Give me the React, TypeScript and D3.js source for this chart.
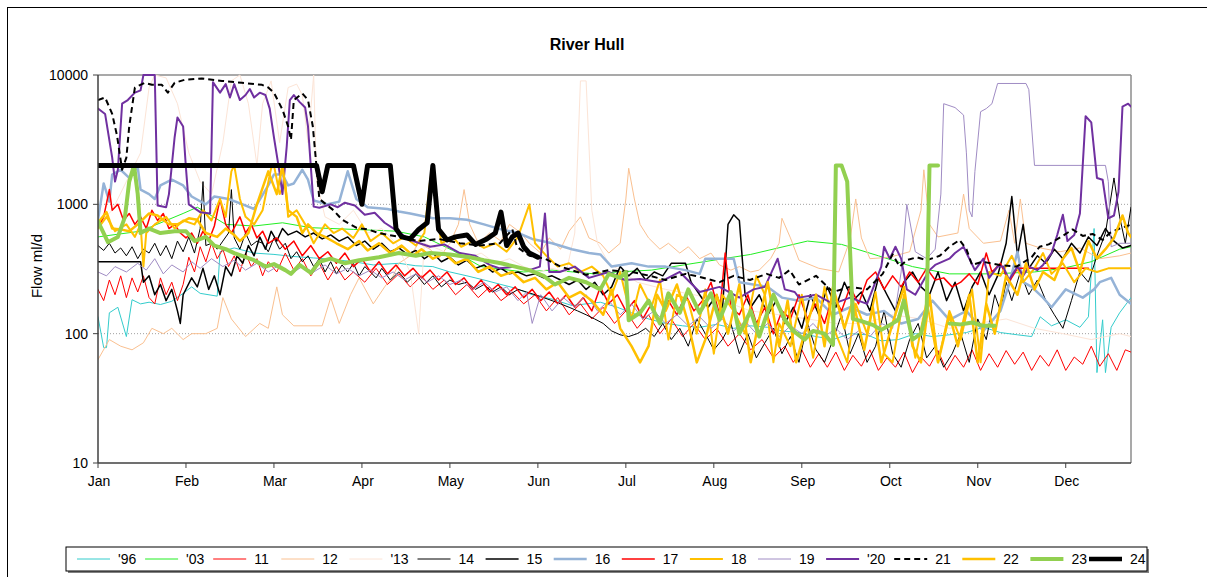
import React from "react";
import * as d3 from "d3";

type P = [number, number | null];

const months = ["Jan","Feb","Mar","Apr","May","Jun","Jul","Aug","Sep","Oct","Nov","Dec"];
const monthDays = [0,31,62,93,124,155,186,217,248,279,310,341];
const yTicks = [10, 100, 1000, 10000];

const s96: P[] = [[0,135],[2,78],[3,78],[4,145],[7,160],[10,95],[12,183],[15,170],[18,175],[22,168],[26,178],[30,205],[33,230],[36,205],[42,195],[43,430],[48,460],[55,420],[62,410],[69,395],[76,385],[83,375],[90,360],[97,340],[106,350],[112,335],[118,330],[124,300],[130,280],[136,260],[142,240],[147,225],[153,200],[160,185],[167,165],[172,170],[177,175],[183,160],[188,145],[194,130],[200,120],[206,115],[212,112],[218,118],[224,110],[230,115],[236,112],[241,105],[247,102],[253,95],[259,90],[265,100],[271,98],[276,88],[282,90],[288,100],[294,95],[300,98],[306,102],[312,112],[318,102],[324,98],[329,95],[332,135],[336,115],[341,128],[346,112],[349,135],[351,650],[352,50],[354,128],[355,50],[357,112],[360,145],[364,190]];

const s03: P[] = [[0,560],[15,620],[30,850],[35,950],[45,700],[55,680],[65,720],[75,660],[90,640],[105,620],[115,560],[125,440],[135,330],[150,300],[160,310],[175,290],[183,300],[195,310],[210,350],[230,410],[250,520],[262,490],[275,400],[287,330],[300,290],[315,290],[330,300],[340,320],[350,360],[360,450],[364,470]];

const s11: P[] = [[0,220],[2,180],[4,260],[6,200],[8,280],[10,190],[12,270],[14,210],[16,280],[18,190],[20,170],[22,270],[24,200],[26,250],[28,180],[30,240],[32,390],[34,300],[36,470],[38,360],[40,500],[42,380],[44,450],[46,330],[48,400],[50,300],[52,420],[54,330],[56,380],[58,280],[60,360],[63,300],[66,420],[69,310],[72,380],[75,280],[78,350],[81,260],[84,330],[87,260],[90,300],[94,250],[98,320],[102,240],[106,290],[110,230],[114,280],[118,220],[122,260],[126,200],[130,240],[134,190],[138,230],[142,180],[146,210],[150,170],[154,200],[158,150],[162,190],[166,140],[170,170],[174,130],[178,160],[182,120],[186,150],[190,110],[194,140],[198,100],[202,130],[206,95],[210,120],[214,90],[218,110],[222,80],[226,100],[230,75],[234,90],[238,65],[242,80],[245,60],[248,75],[251,55],[254,70],[257,55],[260,72],[263,52],[266,68],[269,56],[272,75],[275,52],[278,65],[281,55],[284,72],[287,50],[290,66],[293,56],[296,74],[299,52],[302,68],[305,55],[308,75],[311,52],[314,70],[317,55],[320,74],[323,58],[326,72],[329,52],[332,68],[335,56],[338,75],[341,52],[344,66],[347,58],[350,80],[353,56],[356,70],[359,52],[362,75],[364,72]];

const s12: P[] = [[0,63],[4,90],[8,80],[12,75],[16,85],[19,110],[23,100],[26,110],[30,90],[33,100],[38,100],[42,110],[44,190],[47,130],[52,95],[57,120],[60,110],[63,230],[65,140],[69,115],[74,115],[79,115],[82,190],[85,120],[89,200],[92,270],[97,170],[101,230],[104,280],[106,350],[110,400],[113,500],[117,450],[120,380],[124,500],[127,700],[129,1300],[131,700],[134,500],[138,600],[142,520],[145,700],[149,600],[152,500],[156,420],[159,550],[163,450],[166,620],[170,800],[173,550],[177,500],[180,420],[184,500],[186,1100],[187,1900],[189,1100],[191,700],[194,550],[198,450],[201,500],[205,420],[208,470],[212,380],[216,420],[219,340],[223,310],[226,330],[230,300],[233,310],[237,380],[240,500],[241,780],[244,550],[247,370],[254,320],[261,300],[265,530],[267,1100],[269,550],[272,380],[279,390],[286,430],[290,900],[291,1850],[293,700],[296,560],[303,600],[305,1200],[307,650],[312,500],[318,520],[321,900],[323,500],[325,1100],[327,500],[332,460],[339,430],[346,460],[353,380],[360,400],[364,420]];

const s13: P[] = [[0,700],[5,900],[10,1500],[15,2500],[18,8000],[20,10000],[24,9500],[28,6000],[32,2500],[36,1500],[40,1200],[44,3000],[47,9000],[50,10000],[53,6000],[56,2000],[58,6000],[61,9000],[64,3000],[67,8000],[70,8500],[72,7000],[74,3000],[76,10000],[77,1500],[80,800],[85,700],[90,900],[95,600],[100,650],[105,500],[110,300],[113,100],[115,500],[120,450],[125,400],[130,380],[135,420],[140,350],[145,380],[150,330],[155,300],[160,320],[165,300],[168,600],[170,9000],[172,9000],[174,900],[176,500],[180,350],[185,300],[190,250],[200,220],[210,200],[220,180],[230,150],[240,140],[250,130],[260,120],[270,120],[280,140],[290,130],[300,110],[310,120],[320,130],[330,110],[340,100],[350,90],[360,100],[364,95]];

const s14: P[] = [[0,480],[2,440],[4,500],[6,420],[8,460],[10,400],[12,470],[14,380],[16,450],[18,420],[20,500],[22,400],[24,480],[26,380],[28,520],[30,430],[32,560],[34,420],[36,650],[37,1500],[38,480],[40,500],[42,450],[44,520],[46,600],[47,1300],[48,550],[50,450],[52,600],[54,480],[56,520],[58,500],[60,430],[62,550],[64,450],[66,500],[68,380],[70,430],[72,360],[74,400],[76,330],[78,380],[80,300],[82,360],[84,290],[86,340],[88,300],[90,350],[92,280],[94,330],[96,300],[98,270],[100,320],[103,260],[106,300],[109,250],[112,290],[115,240],[118,280],[121,230],[124,260],[127,240],[130,250],[133,220],[136,240],[139,210],[142,230],[145,200],[148,220],[151,210],[154,200],[157,190],[160,180],[163,170],[166,160],[169,150],[172,140],[175,130],[178,120],[181,105],[184,98],[187,95],[190,100],[193,110],[196,95],[199,120],[202,90],[205,110],[208,80],[211,130],[214,100],[217,75],[220,90],[223,120],[226,70],[229,100],[232,65],[235,85],[238,110],[241,70],[244,95],[247,60],[250,120],[253,75],[256,60],[259,90],[262,140],[265,70],[268,100],[271,60],[274,80],[277,150],[280,70],[283,55],[286,90],[289,120],[292,65],[295,80],[298,55],[301,70],[304,100],[307,60],[310,130],[313,90],[316,200],[318,150],[320,250],[322,180],[325,300],[328,200],[331,260],[334,180],[337,140],[340,110],[343,180],[346,300],[349,250],[352,400],[355,600],[358,1600],[360,800],[362,500],[364,950]];

const s15: P[] = [[0,360],[15,360],[16,250],[18,280],[20,200],[22,240],[24,180],[26,220],[28,150],[29,120],[30,200],[33,270],[35,230],[37,320],[39,220],[41,280],[43,200],[45,330],[47,280],[49,400],[51,350],[53,480],[55,400],[57,560],[59,450],[61,620],[63,520],[65,650],[67,580],[70,620],[73,560],[76,600],[79,540],[82,580],[85,520],[88,560],[91,480],[94,520],[97,450],[100,500],[103,430],[106,460],[109,410],[112,440],[115,380],[118,420],[121,360],[124,390],[127,340],[130,370],[133,320],[136,340],[139,300],[142,320],[145,290],[148,300],[151,280],[154,290],[157,270],[160,280],[163,260],[166,240],[169,260],[172,220],[175,250],[178,200],[181,230],[184,330],[187,280],[190,320],[193,260],[196,300],[199,280],[202,350],[207,350],[209,250],[212,200],[215,160],[218,200],[220,150],[222,700],[224,830],[226,750],[228,200],[230,160],[233,200],[236,140],[239,180],[242,120],[245,160],[248,110],[251,200],[254,140],[257,230],[260,160],[263,250],[266,180],[269,210],[272,150],[275,270],[278,200],[281,150],[284,250],[287,300],[290,230],[293,200],[296,300],[299,180],[302,250],[305,150],[308,230],[311,300],[314,200],[317,280],[320,500],[322,1150],[324,400],[326,700],[328,320],[331,400],[334,350],[337,450],[340,380],[343,500],[346,420],[349,560],[352,480],[355,650],[358,520],[361,460],[364,480]];

const s16: P[] = [[0,760],[2,1450],[4,1050],[5,1700],[8,1850],[11,1600],[14,1950],[15,1300],[18,1200],[20,1100],[22,1400],[26,1550],[30,1400],[33,1150],[38,1000],[41,1150],[46,1100],[51,1000],[55,920],[60,1400],[62,1700],[65,1700],[67,1400],[69,1450],[72,1850],[74,1550],[76,1070],[81,1000],[85,1050],[88,1800],[91,1100],[95,950],[102,920],[106,880],[110,850],[118,780],[124,780],[130,760],[136,700],[142,640],[148,600],[153,540],[160,500],[167,450],[173,420],[177,410],[181,330],[188,350],[194,330],[200,330],[207,310],[212,290],[214,380],[224,380],[226,250],[236,230],[241,190],[247,180],[253,190],[259,140],[265,160],[271,140],[277,150],[283,120],[289,130],[294,180],[300,128],[306,150],[312,105],[318,150],[321,240],[324,430],[326,250],[329,230],[333,190],[336,160],[341,220],[347,190],[351,220],[353,250],[357,270],[360,200],[364,170]];

const s17: P[] = [[0,650],[2,800],[4,1300],[5,900],[7,1000],[9,750],[11,850],[13,700],[15,800],[17,650],[19,900],[21,750],[23,850],[25,650],[27,700],[29,600],[31,550],[33,600],[35,500],[37,620],[39,520],[41,680],[43,1100],[45,700],[47,600],[50,800],[52,600],[54,700],[56,550],[58,620],[60,500],[63,550],[66,450],[69,520],[72,400],[75,480],[78,380],[81,430],[84,350],[87,420],[90,330],[93,380],[96,300],[99,360],[102,290],[105,340],[108,280],[111,320],[114,270],[117,310],[120,260],[123,300],[126,240],[129,270],[132,220],[135,260],[138,210],[141,240],[144,200],[147,230],[150,190],[153,220],[156,180],[159,210],[162,170],[165,200],[168,160],[171,190],[174,150],[177,230],[180,170],[183,200],[186,150],[189,180],[192,130],[195,170],[198,120],[201,180],[204,140],[207,200],[210,150],[213,180],[216,250],[219,140],[221,420],[223,160],[226,140],[229,200],[232,120],[235,160],[238,100],[241,150],[244,130],[247,200],[250,130],[253,170],[256,120],[259,200],[262,150],[265,230],[268,170],[271,260],[274,300],[277,220],[280,280],[283,230],[286,300],[289,250],[292,320],[295,260],[298,270],[301,230],[304,250],[307,290],[310,240],[313,420],[315,300],[318,350],[321,250],[324,320],[326,320],[349,320]];

const s18: P[] = [[0,650],[3,800],[6,620],[10,700],[13,560],[15,700],[16,330],[17,600],[20,700],[24,800],[27,650],[30,750],[34,700],[37,900],[40,750],[43,1100],[45,800],[47,1800],[48,2000],[50,1100],[52,800],[55,700],[58,900],[61,1900],[62,2000],[64,1200],[66,1500],[67,800],[70,900],[73,700],[76,500],[80,700],[83,600],[86,650],[90,550],[93,700],[96,520],[100,600],[104,500],[108,560],[112,480],[115,600],[117,1500],[118,2000],[119,1000],[121,500],[125,560],[128,470],[132,520],[136,460],[140,500],[144,430],[148,560],[152,1000],[154,500],[158,400],[162,330],[166,350],[170,300],[174,330],[178,280],[181,200],[184,300],[188,130],[191,240],[195,160],[198,260],[201,90],[204,200],[208,180],[211,100],[214,220],[217,70],[220,200],[224,150],[228,100],[232,280],[235,200],[238,60],[240,120],[244,80],[248,200],[252,65],[256,230],[260,100],[264,60],[267,170],[271,100],[274,210],[277,70],[280,60],[284,200],[288,65],[292,180],[296,60],[300,150],[304,90],[308,220],[311,60],[314,300],[318,280],[322,400],[326,250],[330,320],[333,420],[336,290],[340,350],[344,250],[348,320],[352,300],[356,320],[364,320]];

const s19: P[] = [[0,300],[3,280],[6,330],[10,300],[14,350],[17,310],[20,380],[23,290],[26,340],[30,300],[33,360],[36,320],[40,380],[44,330],[48,370],[52,310],[56,350],[60,300],[64,340],[68,290],[72,330],[76,300],[80,340],[84,290],[88,320],[92,280],[96,310],[100,270],[104,300],[108,260],[112,290],[116,250],[120,280],[124,240],[128,260],[132,220],[136,250],[140,210],[144,230],[148,180],[151,210],[153,120],[156,200],[160,150],[164,190],[168,160],[172,200],[176,150],[180,180],[184,140],[188,170],[192,130],[196,150],[200,120],[204,140],[208,115],[212,135],[216,110],[220,130],[224,105],[228,125],[232,100],[236,120],[240,95],[244,115],[248,100],[252,120],[256,95],[260,110],[264,90],[268,105],[272,95],[276,120],[280,110],[283,300],[285,1000],[288,430],[292,380],[295,450],[297,1200],[298,6000],[302,5600],[305,4900],[306,2500],[307,900],[308,800],[309,1800],[311,5200],[313,5500],[315,6000],[317,8600],[327,8600],[328,7700],[330,2000],[355,2000],[356,1500],[357,470],[360,500],[364,500]];

const s20: P[] = [[0,5500],[2.5,5000],[5,2300],[6,1500],[7,1850],[8.5,6000],[10.5,6400],[13,7300],[15,7600],[16,10000],[20,10000],[21,980],[24,950],[25,1200],[27,3300],[28,4700],[30,4000],[31,1900],[32,1000],[36,870],[39.5,850],[40.5,8800],[43,7300],[45,8500],[46.5,6700],[48,8500],[50,6400],[52,7000],[53.5,7800],[55,6700],[57,7300],[59,7000],[60.5,5500],[62,3300],[64,1750],[65,1200],[66.5,2800],[67.6,6400],[69,7000],[71,6200],[73,5600],[74,4000],[75,1950],[76,960],[78,940],[82,1000],[84.5,950],[87,1030],[90.5,980],[94,830],[97.5,860],[101,720],[104.6,640],[110,530],[117,470],[122,490],[127.5,420],[133,400],[138,340],[141.6,320],[147,330],[152,310],[155.7,330],[157.5,850],[159,300],[162.7,300],[168,330],[173,270],[180,300],[185.6,260],[191,265],[198,250],[205,300],[212,210],[219,230],[226,190],[231,220],[235,230],[239.5,380],[242,220],[245.5,210],[247,190],[253,200],[259,170],[265,190],[271,170],[276,330],[277,470],[279,380],[281,470],[283,380],[285,220],[288,200],[293,310],[295,340],[300,380],[302,420],[305,470],[307,380],[309,310],[312,380],[314,270],[317,330],[319,330],[321,260],[324,330],[326,280],[328,330],[331,310],[333,340],[336,420],[338,580],[340,830],[341.6,520],[344,580],[346,850],[348,4800],[350,4300],[352,1600],[354,1550],[356,780],[358,820],[359.6,1250],[361,5700],[363,6000],[364,5700]];

const s21: P[] = [[0,6400],[2.5,6700],[5,5000],[6.7,3400],[8.5,1850],[10,2300],[11,4000],[13,8000],[16.5,8700],[19,8400],[22.5,8400],[24.6,7300],[27,8700],[30.6,9200],[36.6,9400],[43.7,9000],[50.7,8700],[57.8,8400],[60,8000],[62,7300],[65,5400],[67,4000],[68,3150],[69,6400],[72,7200],[74,6400],[75.7,4000],[77,1950],[78,1100],[83,900],[86,760],[91,660],[95,640],[99,600],[106,560],[113,520],[120,540],[127.5,500],[134.5,480],[141.6,500],[146,640],[147.6,470],[152,400],[157.5,380],[163,330],[172,285],[180,310],[188,300],[194.5,280],[200,260],[207,290],[212,275],[219,250],[224,280],[229.7,260],[235.6,290],[240,270],[243.7,310],[247,240],[253,280],[259,210],[265,230],[271,220],[276.5,290],[280,410],[282.5,330],[285,370],[288.5,390],[292,370],[296.6,400],[300,470],[303.6,530],[306,450],[308,340],[311.7,360],[317.7,340],[323.7,330],[329,390],[331.8,470],[335,490],[341,590],[343.4,640],[347,570],[350.5,590],[354,530],[356.5,600],[360,650],[363.5,690]];

const s22: P[] = [[0,720],[3,870],[5,650],[8,640],[11,620],[14,700],[18,850],[21,820],[25,700],[28,700],[32,780],[35,760],[38,600],[42,560],[45,650],[48,580],[50,520],[53,600],[56,1000],[60,1800],[63,1200],[65,2000],[67,900],[70,800],[72,600],[74,700],[77,600],[80,560],[84,500],[88,450],[92,520],[95,440],[99,500],[103,420],[107,480],[111,400],[114,450],[118,380],[122,420],[126,350],[130,380],[134,300],[138,330],[142,280],[146,300],[150,250],[154,270],[158,220],[162,250],[166,190],[170,210],[174,180],[178,140],[181,220],[184,110],[188,80],[191,60],[194,80],[197,200],[200,150],[204,240],[208,120],[211,60],[214,90],[218,200],[222,100],[226,240],[230,60],[233,130],[236,250],[240,80],[243,180],[246,60],[250,120],[253,200],[256,80],[259,230],[263,110],[266,180],[270,75],[273,160],[276,60],[280,120],[284,230],[287,80],[290,60],[293,200],[296,60],[300,140],[303,80],[307,200],[310,60],[313,170],[316,100],[320,280],[324,200],[327,350],[330,220],[333,300],[337,260],[340,380],[343,460],[346,300],[349,520],[352,380],[355,450],[358,550],[361,820],[363,600],[364,560]];

const s23: P[] = [[0,740],[3.5,510],[7,560],[9.5,800],[11,1500],[12.7,2000],[14,1200],[15,600],[18,650],[22,600],[27,620],[31,620],[34,520],[38,560],[41,480],[45,450],[48,420],[52,390],[55,370],[59,330],[62,345],[66,310],[68,290],[71,340],[75,295],[78,360],[82,380],[87,350],[92,370],[99,390],[106,420],[112,400],[117,420],[124,410],[131,390],[136,370],[142,350],[147,330],[152,310],[157,280],[161,240],[166,270],[172,250],[177,220],[180,290],[184,270],[186,300],[187,127],[191,145],[194,180],[198,120],[201,205],[205,145],[208,220],[212,145],[216,205],[219,128],[223,210],[226,100],[230,150],[233,95],[238,200],[242,128],[245,105],[249,90],[252,105],[256,100],[259,82],[260,2000],[262,2000],[264,1500],[266,130],[269,125],[273,117],[276,107],[280,120],[282,128],[284,180],[287,90],[290,100],[292,150],[293,2000],[296,2000],[298,null],[300,120],[304,118],[308,122],[312,115],[316,115]];

const s24: P[] = [[0,2000],[77,2000],[79,1250],[81,2000],[90,2000],[93,1000],[95,2000],[103,2000],[105,650],[107,560],[110,540],[113,640],[116,720],[118,2000],[120,640],[123,530],[126,560],[130,580],[133,490],[137,540],[140,600],[142,870],[144,480],[146,560],[148,600],[150,470],[152,420],[155,390]];

const seriesNames = ["'96","'03","11","12","'13","14","15","16","17","18","19","'20","21","22","23","24"];
const seriesData = [s96,s03,s11,s12,s13,s14,s15,s16,s17,s18,s19,s20,s21,s22,s23,s24];
const seriesColors = ["#33CCCC","#22EE22","#FF0000","#FAC090","#FCE4D6","#000000","#000000","#95B3D7","#FF0000","#FFC000","#A08CC4","#7030A0","#000000","#FFC000","#92D050","#000000"];
const seriesWidths = [1,1,1,1,1,1,1.5,2.5,1.5,2,1,2,2,2.5,4,5];
const seriesDash = ["","","","","","","","","","","","","6,4","","",""];

const FONT = "'Liberation Sans', Arial, sans-serif";

export default function App() {
  const left = 98, right = 1131, top = 75, bottom = 463;
  const x = d3.scaleLinear().domain([0, 364]).range([left, right]);
  const y = d3.scaleLog().domain([10, 10000]).range([bottom, top]);
  const line = d3.line<P>()
    .defined(d => d[1] !== null)
    .x(d => x(d[0]))
    .y(d => y(Math.min(d[1] as number, 10000)));

  const labelX = (i: number) => (i < 15 ? 118 + i * 68.1 : 1130);

  return (
    <svg width={1207} height={577} style={{ position: "absolute", left: 0, top: 0, background: "#fff" }} fontFamily={FONT}>
      <rect x={0} y={0} width={1207} height={577} fill="#fff" />
      <line x1={7.5} y1={7} x2={7.5} y2={577} stroke="#000" strokeWidth={1} />
      <line x1={7} y1={7.5} x2={1207} y2={7.5} stroke="#000" strokeWidth={1} />
      <defs>
        <clipPath id="plot"><rect x={left} y={top - 1} width={right - left} height={bottom - top + 1} /></clipPath>
      </defs>
      <text x={587} y={50} textAnchor="middle" fontSize={16} fontWeight="bold">River Hull</text>
      <text transform={`translate(42,266) rotate(-90)`} textAnchor="middle" fontSize={15}>Flow ml/d</text>
      {[100, 1000].map(v => (
        <line key={v} x1={left} x2={right} y1={y(v)} y2={y(v)} stroke="#a0a0a0" strokeWidth={1} strokeDasharray="1,2" />
      ))}
      <line x1={left} x2={right} y1={top} y2={top} stroke="#8c8c8c" strokeWidth={1.5} />
      <line x1={right} x2={right} y1={top} y2={bottom} stroke="#8c8c8c" strokeWidth={1.5} />
      <g clipPath="url(#plot)">
        {seriesData.map((d, i) => (
          <path key={i} d={line(d) || ""} fill="none" stroke={seriesColors[i]} strokeWidth={seriesWidths[i]}
            strokeDasharray={seriesDash[i] || undefined} strokeLinejoin="round" strokeLinecap={i === 12 ? "butt" : "round"} />
        ))}
      </g>
      <line x1={left} x2={left} y1={top} y2={bottom} stroke="#404040" strokeWidth={1.5} />
      <line x1={left} x2={right} y1={bottom} y2={bottom} stroke="#404040" strokeWidth={1.5} />
      {yTicks.map(v => (
        <g key={v}>
          <line x1={left - 5} x2={left} y1={y(v)} y2={y(v)} stroke="#404040" strokeWidth={1} />
          <text x={left - 10} y={y(v) + 5} textAnchor="end" fontSize={14}>{v}</text>
        </g>
      ))}
      {monthDays.map((d, i) => (
        <g key={d}>
          <line x1={x(d)} x2={x(d)} y1={bottom} y2={bottom + 5} stroke="#404040" strokeWidth={1} />
          <text x={x(d) + 1} y={486} textAnchor="middle" fontSize={14}>{months[i]}</text>
        </g>
      ))}
      <rect x={68} y={549} width={1081} height={24} fill="#808080" />
      <rect x={66} y={547} width={1081} height={24} fill="#fff" stroke="#000" strokeWidth={1} />
      {seriesNames.map((n, i) => {
        const lx = labelX(i);
        return (
          <g key={n}>
            <line x1={lx - 41} x2={lx - 8} y1={559} y2={559} stroke={seriesColors[i]} strokeWidth={Math.min(seriesWidths[i], 4.5)}
              strokeDasharray={seriesDash[i] || undefined} />
            <text x={lx} y={564} fontSize={14}>{n}</text>
          </g>
        );
      })}
    </svg>
  );
}
